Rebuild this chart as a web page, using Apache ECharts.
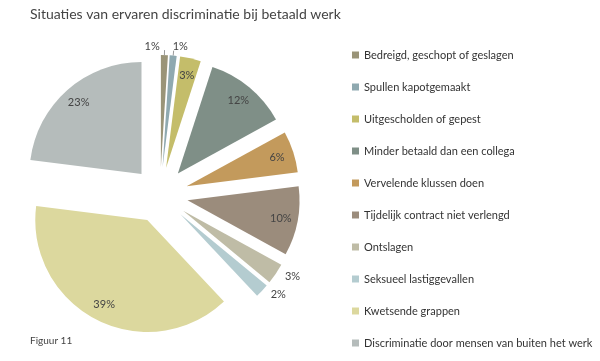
<!DOCTYPE html>
<html>
<head>
<meta charset="utf-8">
<script src="https://cdn.jsdelivr.net/npm/echarts@6/dist/echarts.min.js"></script>
<style>html,body{margin:0;padding:0;background:#fff;}#c{width:600px;height:361px;}</style>
</head>
<body>
<div id="c"></div>
<script>
var categories = ['Bedreigd, geschopt of geslagen','Spullen kapotgemaakt','Uitgescholden of gepest','Minder betaald dan een collega','Vervelende klussen doen','Tijdelijk contract niet verlengd','Ontslagen','Seksueel lastiggevallen','Kwetsende grappen','Discriminatie door mensen van buiten het werk'];
var values = [1,1,3,12,6,10,3,2,39,23];
var colors = ['#9a9478','#8fa9b0','#c4bd6a','#7f8f87','#c39a5c','#9b8c7c','#bfbca6','#b4ccd0','#dcd89e','#b5bcbb'];
var outsideLabel = [true,true,false,false,false,false,true,true,false,false];

var font = 'Lato, "Open Sans", sans-serif';
var center = [160,195];
var R = 112;
var off = 28;

var mainData = categories.map(function(n,i){
  return {
    name:n, value:values[i], selected:true,
    itemStyle:{color:colors[i]},
    label:{show:outsideLabel[i]},
    labelLine:{show:i<2}
  };
});
var overlayData = categories.map(function(n,i){
  return {
    name:n, value:values[i], selected:true,
    itemStyle:{color:'rgba(0,0,0,0)'},
    label:{show:!outsideLabel[i]}
  };
});

var chart = echarts.init(document.getElementById('c'));
chart.setOption({
  animation:false,
  title:{text:'Situaties van ervaren discriminatie bij betaald werk', left:25, top:2,
    textStyle:{fontFamily:font, fontWeight:'normal', fontSize:14, color:'#444'}},
  legend:{orient:'vertical', left:347, top:44, itemWidth:7, itemHeight:7, itemGap:20,
    icon:'rect', data:categories,
    textStyle:{fontFamily:font, fontSize:11, color:'#333', lineHeight:12}},
  graphic:[{type:'text', left:30, top:336, style:{text:'Figuur 11', fontFamily:font, fontSize:10, fill:'#444'}}],
  series:[
    {type:'pie', center:center, radius:R, startAngle:90, clockwise:true,
     selectedMode:'multiple', selectedOffset:off, avoidLabelOverlap:false,
     label:{position:'outside', formatter:'{c}%', fontFamily:font, fontSize:11, color:'#444'},
     labelLine:{length:5, length2:0, lineStyle:{color:'#999', width:1}},
     labelLayout:function(p){
       if(p.dataIndex===0){ return {dx:-25, dy:-4}; }
       if(p.dataIndex===1){ return {dx:-6, dy:-4}; }
       return {};
     },
     emphasis:{disabled:true},
     data:mainData},
    {type:'pie', center:center, radius:[72,R], startAngle:90, clockwise:true, silent:true,
     selectedMode:'multiple', selectedOffset:off, avoidLabelOverlap:false,
     label:{position:'inside', formatter:'{c}%', fontFamily:font, fontSize:11, color:'#444'},
     emphasis:{disabled:true},
     data:overlayData}
  ]
});
</script>
</body>
</html>
